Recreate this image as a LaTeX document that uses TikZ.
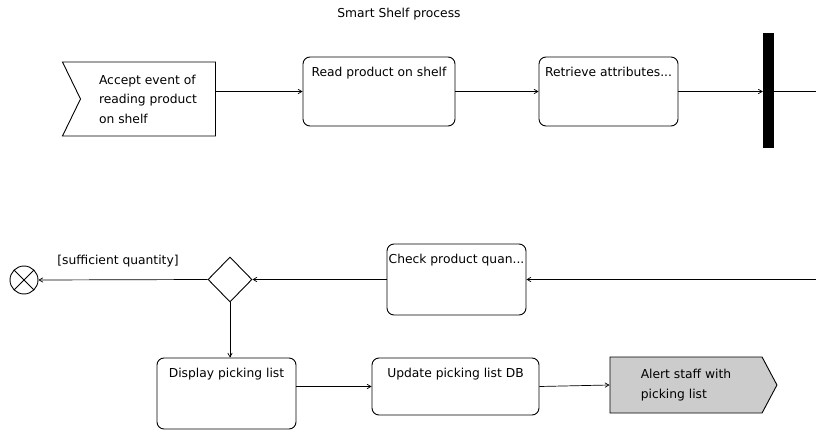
\documentclass[tikz,border=0pt]{standalone}
\usepackage{fontspec}
\setmainfont{DejaVu Sans}
\usepackage{tikz}
\usetikzlibrary{arrows}
\usetikzlibrary{shapes.symbols,shapes.geometric}

\begin{document}
\begin{tikzpicture}[x=1pt,y=-1pt,>=angle 60,
  every node/.style={font=\fontsize{12.3}{19.5}\selectfont},
  action/.style={draw,line width=0.9pt,rounded corners=7pt},
  flow/.style={->,line width=0.7pt}]

\useasboundingbox (0,0) rectangle (816,430);
\clip (0,0) rectangle (816,430);

\node (title) at (399,14) {Smart Shelf process};

% top row
\node[draw,line width=0.9pt,shape=signal,signal from=west,signal to=nowhere,
  signal pointer angle=128,minimum width=153,minimum height=74,inner sep=0pt,
  align=left] (accept) at (148,99) {Accept event of\\reading product\\on shelf};

\node[action,minimum width=152,minimum height=69,
  label={[anchor=north,yshift=-7pt]north:Read product on shelf}] (read) at (379,91.5) {};

\node[action,minimum width=139,minimum height=69,
  label={[anchor=north,yshift=-7pt]north:Retrieve attributes...}] (retrieve) at (608.5,91.5) {};

\node[fill=black,minimum width=11,minimum height=115,inner sep=0pt] (fork) at (768.5,90.5) {};

% bottom row
\node[action,minimum width=139,minimum height=71,
  label={[anchor=north,yshift=-7pt]north:Check product quan...}] (check) at (456.5,279.5) {};

\node[draw,line width=0.9pt,diamond,minimum width=44,minimum height=45,inner sep=0pt] (dec) at (230,279.5) {};

\node[draw,line width=0.9pt,circle,minimum size=28,inner sep=0pt,
  path picture={\draw[line width=0.9pt] (path picture bounding box.north west) -- (path picture bounding box.south east)
    (path picture bounding box.north east) -- (path picture bounding box.south west);}] (final) at (24,280) {};

\node (guard) at (118,261) {[sufficient quantity]};

\node[action,minimum width=139,minimum height=71,
  label={[anchor=north,yshift=-7pt]north:Display picking list}] (display) at (226.5,393.5) {};

\node[action,minimum width=167,minimum height=57,
  label={[anchor=north,yshift=-7pt]north:Update picking list DB}] (update) at (455.5,386.5) {};

\node[draw,line width=0.9pt,fill=gray!40,shape=signal,signal to=east,
  signal pointer angle=124,minimum width=167,minimum height=56,inner sep=0pt,
  align=left] (alert) at (686,385) {Alert staff with\\picking list};

% connectors
\draw[flow] (accept.east |- read.west) -- (read.west);

\draw[flow] (read.east) -- (retrieve.west);

\draw[flow] (retrieve.east) -- (fork.west |- retrieve.east);

\draw[flow] (fork.east |- retrieve.east) -- ++(60,0) |- (check.east);

\draw[flow] (check.west) -- (dec.east);

\draw[flow] (dec.west) -- (final.east);

\draw[flow] (dec.south) -- (dec.south |- display.north);

\draw[flow] (display.east |- update.west) -- (update.west);

\draw[flow] (update.east) -- (alert.west);

\end{tikzpicture}
\end{document}
